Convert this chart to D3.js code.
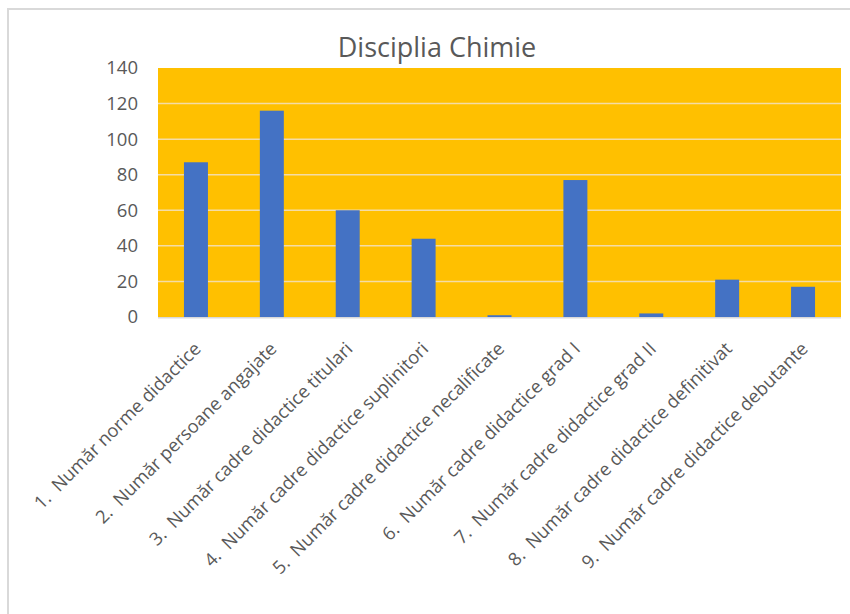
<!DOCTYPE html>
<html>
<head>
<meta charset="utf-8">
<script src="https://cdn.jsdelivr.net/npm/d3@7"></script>
<style>
  html, body { margin: 0; padding: 0; background: #ffffff; }
  svg { display: block; }
  text { font-family: "Open Sans", "Noto Sans", sans-serif; }
</style>
</head>
<body>
<div id="chart"></div>
<script>
const categories = [
  "1.  Număr norme didactice",
  "2.  Număr persoane angajate",
  "3.  Număr cadre didactice titulari",
  "4.  Număr cadre didactice suplinitori",
  "5.  Număr cadre didactice necalificate",
  "6.  Număr cadre didactice grad I",
  "7.  Număr cadre didactice grad II",
  "8.  Număr cadre didactice definitivat",
  "9.  Număr cadre didactice debutante"
];
const values = [87, 116, 60, 44, 1, 77, 2, 21, 17];
const yTicks = [0, 20, 40, 60, 80, 100, 120, 140];
const title = "Disciplia Chimie";

const W = 850, H = 614;
const plot = { left: 158, right: 841, top: 68, bottom: 317 };

const svg = d3.select("#chart").append("svg")
  .attr("width", W).attr("height", H);

// chart frame (top and left edges visible)
svg.append("path")
  .attr("d", `M8,${H} L8,9 L${W},9`)
  .attr("fill", "none")
  .attr("stroke", "#d9d9d9")
  .attr("stroke-width", 2);

const x = d3.scaleBand()
  .domain(categories)
  .range([plot.left, plot.right])
  .paddingInner(0.684)
  .paddingOuter(0.342);

const y = d3.scaleLinear()
  .domain([0, 140])
  .range([plot.bottom, plot.top]);

// plot background
svg.append("rect")
  .attr("x", plot.left).attr("y", plot.top)
  .attr("width", plot.right - plot.left)
  .attr("height", plot.bottom - plot.top)
  .attr("fill", "#FFC000");

// gridlines
svg.append("g")
  .selectAll("line")
  .data(yTicks.filter(d => d > 0 && d < 140))
  .join("line")
  .attr("x1", plot.left).attr("x2", plot.right)
  .attr("y1", d => y(d)).attr("y2", d => y(d))
  .attr("stroke", "#f4dca6")
  .attr("stroke-width", 1.5);

// bars
svg.append("g")
  .selectAll("rect")
  .data(values)
  .join("rect")
  .attr("x", (d, i) => x(categories[i]))
  .attr("width", x.bandwidth())
  .attr("y", d => y(d))
  .attr("height", d => y(0) - y(d))
  .attr("fill", "#4472C4");

// x axis line
svg.append("line")
  .attr("x1", plot.left).attr("x2", plot.right)
  .attr("y1", plot.bottom + 0.75).attr("y2", plot.bottom + 0.75)
  .attr("stroke", "#d9d9d9")
  .attr("stroke-width", 1.5);

// y axis
const yAxis = d3.axisLeft(y).tickValues(yTicks).tickSize(0).tickPadding(20);
const gy = svg.append("g")
  .attr("transform", `translate(${plot.left},0)`)
  .call(yAxis);
gy.select(".domain").remove();
gy.selectAll("text")
  .attr("fill", "#595959")
  .style("font-size", "18.5px");

// x axis labels
const xAxis = d3.axisBottom(x).tickSize(0).tickPadding(0);
const gx = svg.append("g")
  .attr("transform", `translate(0,${plot.bottom})`)
  .call(xAxis);
gx.select(".domain").remove();
gx.selectAll(".tick text")
  .attr("fill", "#595959")
  .style("font-size", "18.3px")
  .style("white-space", "pre")
  .attr("text-anchor", "end")
  .attr("dy", null)
  .attr("y", 0)
  .attr("transform", "translate(6,33) rotate(-45)");

// title
svg.append("text")
  .attr("x", 437).attr("y", 57)
  .attr("text-anchor", "middle")
  .attr("fill", "#595959")
  .style("font-size", "27px")
  .text(title);
</script>
</body>
</html>
